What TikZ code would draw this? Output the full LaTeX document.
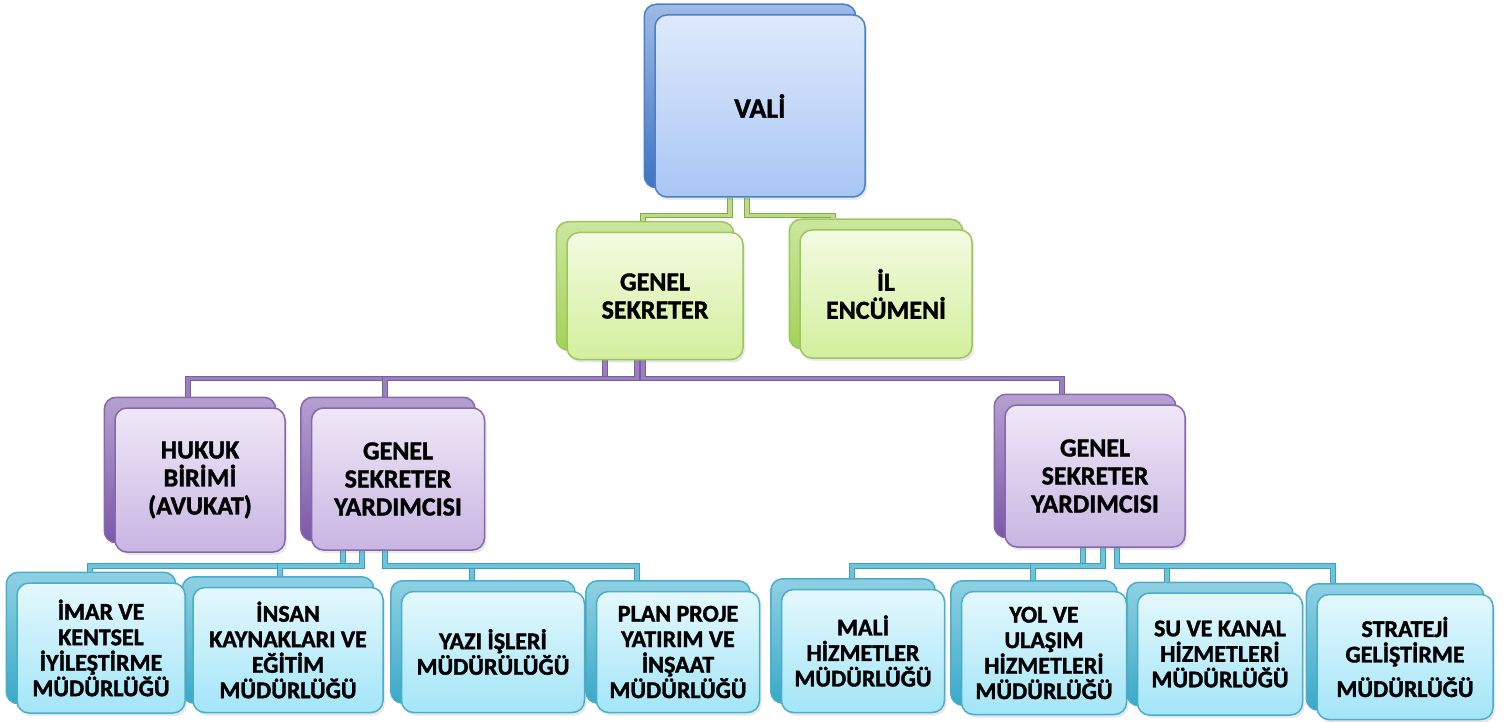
\documentclass[tikz,border=0pt]{standalone}
\usepackage{fontspec}
\setmainfont{Carlito}[BoldFeatures={FakeBold=1.5}]
\usepackage{tikz}
\usetikzlibrary{positioning, shadows, fit, backgrounds}

\definecolor{valiline}{HTML}{4A7FC9}
\definecolor{valitop}{HTML}{DEE9FB}
\definecolor{valibot}{HTML}{A9C6F4}
\definecolor{valiback}{HTML}{3F73C2}
\definecolor{greenline}{HTML}{9CC65A}
\definecolor{greentop}{HTML}{F3FBE2}
\definecolor{greenbot}{HTML}{D3EF9C}
\definecolor{greenback}{HTML}{A3D25A}
\definecolor{greenfill}{HTML}{B9DC84}
\definecolor{purpleline}{HTML}{8767AE}
\definecolor{purpletop}{HTML}{EFE8F7}
\definecolor{purplebot}{HTML}{C8B5E2}
\definecolor{purpleback}{HTML}{7B58A8}
\definecolor{purplefill}{HTML}{9A7FC0}
\definecolor{tealline}{HTML}{4AAECB}
\definecolor{tealtop}{HTML}{E4F8FD}
\definecolor{tealbot}{HTML}{A3E5F8}
\definecolor{tealback}{HTML}{3AA9C9}
\definecolor{tealfill}{HTML}{6CC4DC}

\begin{document}
\begin{tikzpicture}[x=1pt, y=-1pt,
    card/.style={rounded corners=12pt, line width=1.5pt, align=center, inner sep=0pt,
                 drop shadow={opacity=.18, shadow xshift=2pt, shadow yshift=-3pt}},
    cardback/.style={rounded corners=12pt, line width=1.5pt, inner sep=0pt},
    huge/.style={font=\bfseries\fontsize{28}{30}\selectfont},
    top/.style={font=\bfseries\fontsize{26}{28}\selectfont},
    mid/.style={font=\bfseries\fontsize{26}{28}\selectfont},
    low/.style={font=\bfseries\fontsize{24}{25.5}\selectfont},
    valicard/.style={card, huge, draw=valiline, top color=valitop, bottom color=valibot},
    greencard/.style={card, top, draw=greenline, top color=greentop, bottom color=greenbot},
    purplecard/.style={card, mid, draw=purpleline, top color=purpletop, bottom color=purplebot},
    tealcard/.style={card, low, draw=tealline, top color=tealtop, bottom color=tealbot},
    valib/.style={cardback, draw=valiline, top color=valitop!60!valiback, bottom color=valiback},
    greenb/.style={cardback, draw=greenline, top color=greentop!50!greenback, bottom color=greenback},
    purpleb/.style={cardback, draw=purpleline, top color=purpletop!50!purpleback, bottom color=purpleback},
    tealb/.style={cardback, draw=tealline, top color=tealtop!50!tealback, bottom color=tealback},
    gline/.style={draw=greenline!85!black, double=greenfill, double distance=3.5pt, line width=1pt},
    pline/.style={draw=purpleline!90!black, double=purplefill, double distance=3.5pt, line width=1pt},
    tline/.style={draw=tealline!90!black, double=tealfill, double distance=3.5pt, line width=1pt}
  ]

  \useasboundingbox (0,0) rectangle (1510,722);

  \node[valicard, minimum width=210pt, minimum height=182pt]   (vali)     at (760,106)  {VALİ};

  \node[greencard, minimum width=176pt, minimum height=127pt]  (gs)       at (655,296)  {GENEL\\SEKRETER};
  \node[greencard, minimum width=172pt, minimum height=128pt]  (il)       at (886,294)  {İL\\ENCÜMENİ};

  \node[purplecard, minimum width=170pt, minimum height=144pt] (hukuk)    at (200,480)  {HUKUK\\BİRİMİ\\(AVUKAT)};
  \node[purplecard, minimum width=173pt, minimum height=142pt] (gsy1)     at (398,479)  {GENEL\\SEKRETER\\YARDIMCISI};
  \node[purplecard, minimum width=180pt, minimum height=142pt] (gsy2)     at (1095,476) {GENEL\\SEKRETER\\YARDIMCISI};

  \node[tealcard, minimum width=168pt, minimum height=130pt]   (imar)     at (101,648)  {İMAR VE\\KENTSEL\\İYİLEŞTİRME\\MÜDÜRLÜĞÜ};
  \node[tealcard, minimum width=190pt, minimum height=125pt]   (insan)    at (288,650)  {İNSAN\\KAYNAKLARI VE\\EĞİTİM\\MÜDÜRLÜĞÜ};
  \node[tealcard, minimum width=183pt, minimum height=121pt]   (yazi)     at (493,652)  {YAZI İŞLERİ\\MÜDÜRÜLÜĞÜ};
  \node[tealcard, minimum width=163pt, minimum height=121pt]   (plan)     at (678,652)  {PLAN PROJE\\YATIRIM VE\\İNŞAAT\\MÜDÜRLÜĞÜ};
  \node[tealcard, minimum width=163pt, minimum height=123pt]   (mali)     at (863,651)  {MALİ\\HİZMETLER\\MÜDÜRLÜĞÜ};
  \node[tealcard, minimum width=165pt, minimum height=123pt]   (yol)      at (1044,653) {YOL VE\\ULAŞIM\\HİZMETLERİ\\MÜDÜRLÜĞÜ};
  \node[tealcard, minimum width=165pt, minimum height=122pt]   (su)       at (1220,654) {SU VE KANAL\\HİZMETLERİ\\MÜDÜRLÜĞÜ};
  \node[tealcard, minimum width=176pt, minimum height=125pt]   (strateji) at (1405,657) {STRATEJİ\\GELİŞTİRME\\[9pt]MÜDÜRLÜĞÜ};

  \begin{pgfonlayer}{background}
    \foreach \n/\s in {vali/valib, gs/greenb, il/greenb, hukuk/purpleb, gsy1/purpleb, gsy2/purpleb,
                       imar/tealb, insan/tealb, yazi/tealb, plan/tealb, mali/tealb, yol/tealb, su/tealb, strateji/tealb}
      \node[\s, fit=(\n), xshift=-10pt, yshift=10pt] (\n-b) {};

    \draw[gline] ([xshift=-30pt]vali.south) -- ++(0,18) -| ([xshift=-2pt]gs-b.north);
    \draw[gline] ([xshift=-13pt]vali.south) -- ++(0,18) -| ([xshift=-43pt]il-b.north);

    \draw[pline] ([xshift=-50pt]gs.south) -- ++(0,18) -| ([xshift=-2pt]hukuk-b.north);
    \draw[pline] ([xshift=-18pt]gs.south) -- ++(0,18) -| ([xshift=-3pt]gsy1-b.north);
    \draw[pline] ([xshift=-12pt]gs.south) -- ++(0,18) -| ([xshift=-23pt]gsy2-b.north);

    \draw[tline] ([xshift=-55pt]gsy1.south) -- ++(0,15) -| ([xshift=-1pt]imar-b.north);
    \draw[tline] ([xshift=-36pt]gsy1.south) -- ++(0,15) -| ([xshift=2pt]insan-b.north);
    \draw[tline] ([xshift=-13pt]gsy1.south) -- ++(0,15) -| ([xshift=-11pt]yazi-b.north);
    \draw[tline] ([xshift=-13pt]gsy1.south) -- ++(0,15) -| ([xshift=-31pt]plan-b.north);

    \draw[tline] ([xshift=-12pt]gsy2.south) -- ++(0,18) -| ([xshift=-1pt]mali-b.north);
    \draw[tline] ([xshift=8pt]gsy2.south)   -- ++(0,18) -| ([xshift=-1pt]yol-b.north);
    \draw[tline] ([xshift=22pt]gsy2.south)  -- ++(0,18) -| ([xshift=-43pt]su-b.north);
    \draw[tline] ([xshift=22pt]gsy2.south)  -- ++(0,18) -| ([xshift=-62pt]strateji-b.north);
  \end{pgfonlayer}

\end{tikzpicture}
\end{document}
